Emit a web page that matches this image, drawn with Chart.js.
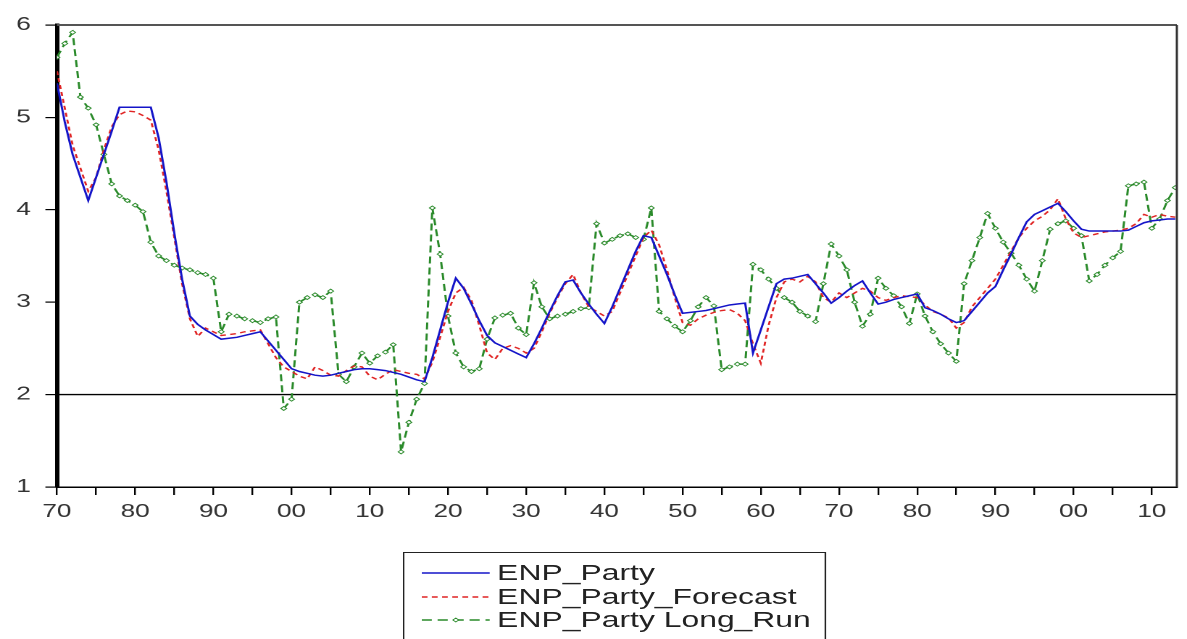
<!DOCTYPE html>
<html>
<head>
<meta charset="utf-8">
<script src="https://cdn.jsdelivr.net/npm/chart.js@4.4.1/dist/chart.umd.min.js"></script>
<style>
  html, body { margin: 0; padding: 0; background: #fff; overflow: hidden; }
  /* the reference graph is stretched sideways, so draw narrow and widen */
  #wrap { position: absolute; left: 0; top: 0; width: 819px; height: 639px;
          transform: scaleX(1.4493); transform-origin: 0 0; }
  #chart { position: absolute; left: 0; top: 0; }
  #legend { position: absolute; left: 278px; top: 552px; width: 292px; height: 100px;
            border: 1px solid #222; box-sizing: border-box; padding-top: 8px;
            font: 22px "Liberation Sans", Arial, sans-serif; color: #222; }
  .row { position: relative; height: 23.5px; line-height: 23.5px; white-space: nowrap; }
  .row svg { position: absolute; left: 12px; top: 7px; }
  .row span { position: absolute; left: 64px; top: 0; }
</style>
</head>
<body>
<div id="wrap">
  <canvas id="chart" width="819" height="639"></canvas>
  <div id="legend"></div>
</div>
<script>
// years 1870 .. 2013
const firstYear = 1870;

const enpParty = [
  5.37, 4.95, 4.60, 4.35, 4.10, 4.35, 4.60, 4.85, 5.11, 5.11,
  5.11, 5.11, 5.11, 4.78, 4.30, 3.75, 3.25, 2.85, 2.76, 2.70,
  2.65, 2.60, 2.61, 2.62, 2.64, 2.66, 2.68, 2.58, 2.48, 2.38,
  2.28, 2.25, 2.23, 2.21, 2.20, 2.21, 2.23, 2.25, 2.27, 2.28,
  2.28, 2.27, 2.26, 2.24, 2.22, 2.19, 2.16, 2.14, 2.40, 2.70,
  3.00, 3.26, 3.15, 2.98, 2.80, 2.64, 2.56, 2.52, 2.48, 2.44,
  2.40, 2.55, 2.72, 2.90, 3.07, 3.22, 3.24, 3.10, 2.98, 2.87,
  2.77, 2.95, 3.15, 3.35, 3.55, 3.72, 3.70, 3.50, 3.30, 3.08,
  2.88, 2.89, 2.90, 2.91, 2.93, 2.95, 2.97, 2.98, 2.99, 2.45,
  2.70, 2.95, 3.20, 3.25, 3.26, 3.28, 3.30, 3.20, 3.10, 2.99,
  3.05, 3.12, 3.18, 3.23, 3.10, 2.98, 3.00, 3.03, 3.05, 3.07,
  3.09, 2.94, 2.91, 2.87, 2.82, 2.78, 2.80, 2.90, 3.00, 3.10,
  3.17, 3.35, 3.52, 3.70, 3.87, 3.95, 3.99, 4.03, 4.07, 3.98,
  3.88, 3.79, 3.77, 3.77, 3.77, 3.77, 3.77, 3.78, 3.82, 3.86,
  3.88, 3.89, 3.90, 3.90
];

const enpForecast = [
  5.50, 5.10, 4.70, 4.45, 4.20, 4.35, 4.65, 4.90, 5.03, 5.07,
  5.06, 5.02, 4.97, 4.65, 4.20, 3.70, 3.20, 2.82, 2.63, 2.72,
  2.68, 2.64, 2.65, 2.66, 2.68, 2.69, 2.70, 2.55, 2.40, 2.30,
  2.25, 2.20, 2.17, 2.30, 2.26, 2.21, 2.20, 2.26, 2.31, 2.30,
  2.20, 2.16, 2.22, 2.27, 2.25, 2.23, 2.22, 2.17, 2.35, 2.62,
  2.90, 3.10, 3.16, 3.02, 2.75, 2.45, 2.38, 2.50, 2.53, 2.50,
  2.45, 2.50, 2.68, 2.88, 3.05, 3.20, 3.30, 3.10, 2.95, 2.90,
  2.85, 2.90, 3.10, 3.30, 3.50, 3.70, 3.78, 3.62, 3.35, 3.05,
  2.78, 2.75, 2.82, 2.86, 2.89, 2.91, 2.92, 2.88, 2.80, 2.55,
  2.34, 2.75, 3.05, 3.22, 3.25, 3.22, 3.28, 3.22, 3.05, 3.00,
  3.10, 3.05, 3.10, 3.15, 3.12, 3.05, 3.02, 3.05, 3.07, 3.06,
  3.05, 2.97, 2.90, 2.87, 2.83, 2.72, 2.78, 2.95, 3.05, 3.15,
  3.25, 3.40, 3.55, 3.70, 3.80, 3.88, 3.93, 4.00, 4.12, 3.90,
  3.75, 3.70, 3.72, 3.74, 3.76, 3.77, 3.78, 3.80, 3.85, 3.95,
  3.92, 3.95, 3.93, 3.92
];

const enpLongRun = [
  5.65, 5.80, 5.92, 5.22, 5.10, 4.92, 4.60, 4.28, 4.15, 4.10,
  4.05, 3.98, 3.65, 3.50, 3.45, 3.40, 3.37, 3.35, 3.32, 3.30,
  3.26, 2.68, 2.87, 2.85, 2.82, 2.80, 2.78, 2.82, 2.84, 1.85,
  1.95, 3.00, 3.05, 3.08, 3.05, 3.12, 2.22, 2.14, 2.30, 2.45,
  2.34, 2.42, 2.46, 2.54, 1.38, 1.70, 1.95, 2.12, 4.02, 3.52,
  2.85, 2.45, 2.30, 2.25, 2.28, 2.60, 2.83, 2.86, 2.88, 2.72,
  2.65, 3.21, 2.95, 2.82, 2.85, 2.87, 2.90, 2.93, 2.94, 3.85,
  3.64, 3.68, 3.72, 3.74, 3.70, 3.68, 4.02, 2.90, 2.82, 2.74,
  2.68, 2.80, 2.95, 3.05, 2.96, 2.27, 2.30, 2.33, 2.33, 3.41,
  3.35, 3.25, 3.15, 3.05, 3.00, 2.90, 2.85, 2.79, 3.20, 3.63,
  3.50, 3.35, 3.00, 2.74, 2.87, 3.26, 3.15, 3.07, 2.95, 2.77,
  3.09, 2.85, 2.68, 2.55, 2.45, 2.36, 3.20, 3.45, 3.70, 3.96,
  3.80, 3.65, 3.53, 3.40, 3.25, 3.12, 3.45, 3.79, 3.85, 3.88,
  3.80, 3.72, 3.23, 3.30, 3.40, 3.48, 3.55, 4.26, 4.28, 4.30,
  3.80, 3.90, 4.10, 4.24
];

const years = enpParty.map((v, i) => firstYear + i);
const seriesNames = ['ENP_Party', 'ENP_Party_Forecast', 'ENP_Party Long_Run'];
const seriesColors = ['#1414c8', '#e02424', '#2a8a2a'];

function points(values) {
  return values.map((v, i) => ({ x: years[i], y: v }));
}

// top/right frame and the reference line at 2
const framePlugin = {
  id: 'frame',
  beforeDatasetsDraw(chart) {
    const ctx = chart.ctx;
    const a = chart.chartArea;
    const y2 = chart.scales.y.getPixelForValue(2);
    ctx.save();
    ctx.strokeStyle = '#000';
    ctx.lineWidth = 1.4;
    ctx.beginPath();
    ctx.moveTo(a.left, y2);
    ctx.lineTo(a.right, y2);
    ctx.stroke();
    ctx.restore();
  },
  afterDraw(chart) {
    const ctx = chart.ctx;
    const a = chart.chartArea;
    ctx.save();
    ctx.strokeStyle = '#555';
    ctx.lineWidth = 2;
    ctx.beginPath();
    ctx.moveTo(a.left, a.top);
    ctx.lineTo(a.right, a.top);
    ctx.stroke();
    ctx.strokeStyle = '#333';
    ctx.lineWidth = 1.5;
    ctx.beginPath();
    ctx.moveTo(a.right, a.top);
    ctx.lineTo(a.right, a.bottom);
    ctx.stroke();
    ctx.restore();
  }
};

const tickFont = { family: '"Liberation Sans", Arial, sans-serif', size: 18 };

new Chart(document.getElementById('chart'), {
  type: 'line',
  data: {
    datasets: [
      {
        label: seriesNames[0],
        data: points(enpParty),
        borderColor: seriesColors[0],
        borderWidth: 1.5,
        pointRadius: 0
      },
      {
        label: seriesNames[1],
        data: points(enpForecast),
        borderColor: seriesColors[1],
        borderWidth: 1.4,
        borderDash: [4, 3],
        pointRadius: 0
      },
      {
        label: seriesNames[2],
        data: points(enpLongRun),
        borderColor: seriesColors[2],
        borderWidth: 1.5,
        borderDash: [7, 4],
        pointStyle: 'rectRot',
        pointRadius: 2,
        pointBorderWidth: 0.8,
        pointBackgroundColor: '#fff',
        pointBorderColor: seriesColors[2]
      }
    ]
  },
  options: {
    responsive: false,
    devicePixelRatio: 2,
    animation: false,
    layout: { padding: { top: 25, right: 7, left: 0, bottom: 0 } },
    plugins: { legend: { display: false }, tooltip: { enabled: false } },
    elements: { line: { tension: 0 } },
    scales: {
      x: {
        type: 'linear',
        min: 1870,
        max: 2013.2,
        afterFit(scale) { scale.height = 152; },
        ticks: {
          stepSize: 5,
          includeBounds: false,
          autoSkip: false,
          maxRotation: 0,
          padding: 6,
          color: '#333',
          font: tickFont,
          callback: v => (Math.round(v) % 10 === 0 ? String(Math.round(v) % 100).padStart(2, '0') : '')
        },
        grid: { drawOnChartArea: false, tickLength: 8, color: '#000', lineWidth: 1.2 },
        border: { display: true, color: '#000', width: 1.5 }
      },
      y: {
        min: 1,
        max: 6,
        afterFit(scale) { scale.width = 39.3; },
        ticks: { stepSize: 1, padding: 10, color: '#333', font: tickFont },
        grid: { drawOnChartArea: false, tickLength: 8, color: '#000', lineWidth: 1.2 },
        border: { display: true, color: '#000', width: 3 }
      }
    }
  },
  plugins: [framePlugin]
});

// legend box below the plot
const samples = [
  '<line x1="0" y1="5" x2="47" y2="5" stroke="' + seriesColors[0] + '" stroke-width="1.3"/>',
  '<line x1="0" y1="5" x2="47" y2="5" stroke="' + seriesColors[1] + '" stroke-width="1.3" stroke-dasharray="4 3"/>',
  '<line x1="0" y1="5" x2="47" y2="5" stroke="' + seriesColors[2] + '" stroke-width="1.3" stroke-dasharray="7 4"/>' +
    '<path d="M23.5 3 L25.5 5 L23.5 7 L21.5 5 Z" fill="#fff" stroke="' + seriesColors[2] + '" stroke-width="0.8"/>'
];
document.getElementById('legend').innerHTML = seriesNames.map((name, i) =>
  '<div class="row"><svg width="47" height="10">' + samples[i] + '</svg><span>' + name + '</span></div>'
).join('');
</script>
</body>
</html>
